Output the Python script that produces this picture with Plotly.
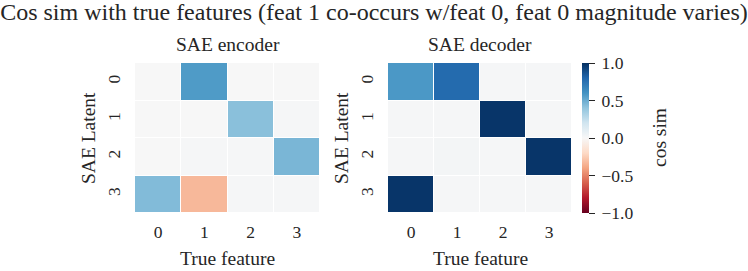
import plotly.graph_objects as go

features = ["0", "1", "2", "3"]
latents = ["0", "1", "2", "3"]

encoder_vals = [
    [0.00, 0.57, 0.00, 0.00],
    [0.00, 0.00, 0.42, 0.01],
    [0.00, 0.01, 0.01, 0.46],
    [0.44, -0.33, 0.01, 0.01],
]
decoder_vals = [
    [0.58, 0.78, 0.01, 0.01],
    [0.01, 0.01, 0.98, 0.01],
    [0.01, 0.02, 0.01, 0.98],
    [0.98, 0.01, 0.01, 0.01],
]

title_text = "Cos sim with true features (feat 1 co-occurs w/feat 0, feat 0 magnitude varies)"
sub_titles = ["SAE encoder", "SAE decoder"]
x_title = "True feature"
y_title = "SAE Latent"
cbar_title = "cos sim"
cbar_ticks = [-1.0, -0.5, 0.0, 0.5, 1.0]
cbar_ticktext = ["\u22121.0", "\u22120.5", "0.0", "0.5", "1.0"]

rdbu = ["#67001f", "#b2182b", "#d6604d", "#f4a582", "#fddbc7", "#f7f7f7",
        "#d1e5f0", "#92c5de", "#4393c3", "#2166ac", "#053061"]
colorscale = [[i / 10, c] for i, c in enumerate(rdbu)]

FONT = "Liberation Serif"
W, H = 748, 271
TXT = "#262626"

fig = go.Figure()
fig.add_trace(go.Heatmap(z=encoder_vals, x=features, y=latents, coloraxis="coloraxis",
                         xgap=1, ygap=1, xaxis="x", yaxis="y"))
fig.add_trace(go.Heatmap(z=decoder_vals, x=features, y=latents, coloraxis="coloraxis",
                         xgap=1, ygap=1, xaxis="x2", yaxis="y2"))

def px_x(p):
    return p / W

def px_y(p):
    return 1 - p / H

tickfont = dict(family=FONT, size=17.5, color=TXT)
labelfont = dict(family=FONT, size=19.5, color=TXT)

axis_common = dict(showgrid=False, zeroline=False, showline=False, ticks="",
                   automargin=False, tickfont=tickfont)

panels = [(135, 320), (388, 572)]
top, bottom = 63, 213

fig.update_layout(
    width=W, height=H,
    margin=dict(l=0, r=0, t=0, b=0, autoexpand=False),
    paper_bgcolor="white", plot_bgcolor="white",
    font=dict(family=FONT, color=TXT),
    title=dict(text=title_text, x=0.5, xanchor="center", y=px_y(12), yanchor="middle",
               font=dict(family=FONT, size=24, color=TXT)),
    xaxis=dict(domain=[px_x(panels[0][0]), px_x(panels[0][1])], anchor="y",
               ticklabelstandoff=6, **axis_common),
    yaxis=dict(domain=[px_y(bottom), px_y(top)], anchor="x", autorange="reversed",
               tickangle=-90, ticklabelstandoff=11, **axis_common),
    xaxis2=dict(domain=[px_x(panels[1][0]), px_x(panels[1][1])], anchor="y2",
                ticklabelstandoff=6, **axis_common),
    yaxis2=dict(domain=[px_y(bottom), px_y(top)], anchor="x2", autorange="reversed",
                tickangle=-90, ticklabelstandoff=11, **axis_common),
    coloraxis=dict(
        colorscale=colorscale, cmin=-1, cmax=1,
        colorbar=dict(
            x=px_x(582), xanchor="left", xref="paper",
            y=px_y((top + bottom) / 2), yanchor="middle",
            len=(bottom - top) / H, lenmode="fraction",
            thickness=7, outlinewidth=0, xpad=0, ypad=0,
            ticks="outside", ticklen=6, tickcolor=TXT,
            tickvals=cbar_ticks, ticktext=["\u2009" + t for t in cbar_ticktext],
            tickfont=tickfont,
        ),
    ),
)

for (l, r), t in zip(panels, sub_titles):
    cx = (l + r) / 2
    fig.add_annotation(text=t, x=px_x(cx), y=px_y(45), xref="paper", yref="paper",
                       showarrow=False, xanchor="center", yanchor="middle", font=labelfont)
    fig.add_annotation(text=x_title, x=px_x(cx), y=px_y(258), xref="paper", yref="paper",
                       showarrow=False, xanchor="center", yanchor="middle", font=labelfont)
    fig.add_annotation(text=y_title, x=px_x(l - 47), y=px_y((top + bottom) / 2),
                       xref="paper", yref="paper", textangle=-90,
                       showarrow=False, xanchor="center", yanchor="middle", font=labelfont)

fig.add_annotation(text=cbar_title, x=px_x(659), y=px_y((top + bottom) / 2),
                   xref="paper", yref="paper", textangle=-90,
                   showarrow=False, xanchor="center", yanchor="middle", font=labelfont)

fig.write_html("out.html", config={"displayModeBar": False},
               post_script="document.body.style.margin='0';")
